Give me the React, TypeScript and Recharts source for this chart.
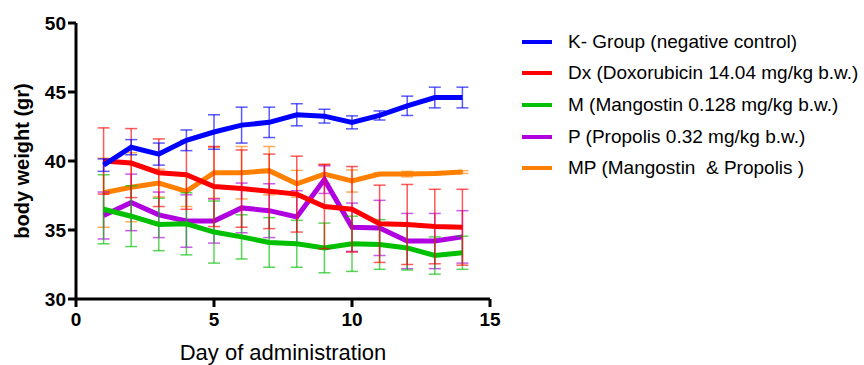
import { LineChart, Line, XAxis, YAxis, ErrorBar, Label } from "recharts";

const days = [1, 2, 3, 4, 5, 6, 7, 8, 9, 10, 11, 12, 13, 14];

const kGroup = [39.7, 41.0, 40.5, 41.5, 42.1, 42.6, 42.8, 43.35, 43.25, 42.8, 43.3, 44.0, 44.6, 44.6];
const kGroupErr = [0.45, 0.55, 0.8, 0.75, 1.25, 1.3, 1.1, 0.8, 0.5, 0.47, 0.33, 0.7, 0.75, 0.75];

const dx = [40.0, 39.85, 39.15, 39.0, 38.15, 38.0, 37.8, 37.6, 36.7, 36.5, 35.45, 35.4, 35.25, 35.2];
const dxErr = [2.4, 2.5, 2.45, 2.5, 2.9, 2.8, 2.7, 2.75, 3.05, 3.1, 2.8, 2.9, 2.7, 2.75];

const mango = [36.5, 36.0, 35.4, 35.45, 34.85, 34.5, 34.1, 34.0, 33.7, 34.0, 33.95, 33.7, 33.15, 33.35];
const mangoErr = [2.5, 2.2, 1.9, 2.25, 2.25, 1.6, 1.8, 1.7, 1.8, 2.0, 1.8, 1.6, 1.35, 1.2];

const propolis = [36.05, 37.0, 36.1, 35.65, 35.65, 36.6, 36.4, 35.95, 38.65, 35.2, 35.15, 34.2, 34.2, 34.5];
const propolisErr = [1.7, 2.05, 1.65, 1.9, 1.6, 1.8, 1.95, 1.9, 1.0, 1.75, 2.0, 2.0, 2.0, 1.9];

const mp = [37.7, 38.1, 38.4, 37.8, 39.15, 39.15, 39.3, 38.35, 39.05, 38.55, 39.05, 39.05, 39.1, 39.2];
const mpErr = [2.5, 2.5, 1.0, 1.1, 1.85, 1.9, 1.75, 0.97, 0.7, 0.8, 0.1, 0.2, 0.1, 0.1];

const xTicks = [0, 5, 10, 15];
const yTicks = [30, 35, 40, 45, 50];

const series = [
  { key: "k", name: "K- Group (negative control)", color: "#0000ff" },
  { key: "dx", name: "Dx (Doxorubicin 14.04 mg/kg b.w.)", color: "#ff0000" },
  { key: "m", name: "M (Mangostin 0.128 mg/kg b.w.)", color: "#00c000" },
  { key: "p", name: "P (Propolis 0.32 mg/kg b.w.)", color: "#b000e0" },
  { key: "mp", name: "MP (Mangostin  & Propolis )", color: "#ff8000" },
];

const data = days.map((d, i) => ({
  day: d,
  k: kGroup[i],
  kErr: kGroupErr[i],
  dx: dx[i],
  dxErr: dxErr[i],
  m: mango[i],
  mErr: mangoErr[i],
  p: propolis[i],
  pErr: propolisErr[i],
  mp: mp[i],
  mpErr: mpErr[i],
}));

const font = "'Liberation Sans', Arial, sans-serif";

// legend drawn beside the chart, like the GraphPad export
function SeriesLegend() {
  return (
    <div style={{ position: "absolute", left: 522, top: 26, fontFamily: font, fontSize: 19, color: "#000" }}>
      {series.map((s) => (
        <div key={s.key} style={{ display: "flex", alignItems: "center", height: 31.6 }}>
          <span style={{ display: "inline-block", width: 30, height: 4, background: s.color, marginRight: 16 }} />
          <span style={{ whiteSpace: "pre" }}>{s.name}</span>
        </div>
      ))}
    </div>
  );
}

// draw order: K- group on top
const drawOrder = ["mp", "p", "m", "dx", "k"];

export default function App() {
  return (
    <div style={{ position: "absolute", left: 0, top: 0, width: 864, height: 365, background: "#fff" }}>
      <LineChart width={864} height={365} data={data} margin={{ top: 23, right: 374, left: 0, bottom: 0 }}>
        <XAxis
          dataKey="day"
          type="number"
          domain={[0, 15]}
          ticks={xTicks}
          height={66}
          stroke="#000"
          strokeWidth={3}
          tickSize={8}
          tickMargin={6}
          tick={{ fill: "#000", fontSize: 19, fontWeight: "bold", fontFamily: font }}
        >
          <Label
            value="Day of administration"
            position="insideBottom"
            offset={5}
            style={{ fill: "#000", fontSize: 22, fontFamily: font }}
          />
        </XAxis>
        <YAxis
          type="number"
          domain={[30, 50]}
          ticks={yTicks}
          width={76}
          stroke="#000"
          strokeWidth={3}
          tickSize={8}
          tick={{ fill: "#000", fontSize: 19, fontWeight: "bold", fontFamily: font }}
        >
          <Label
            value="body weight (gr)"
            angle={-90}
            position="insideLeft"
            offset={22}
            style={{ fill: "#000", fontSize: 20, fontWeight: "bold", fontFamily: font, textAnchor: "middle" }}
          />
        </YAxis>
        {drawOrder.map((key) => {
          const s = series.find((x) => x.key === key)!;
          return (
            <Line
              key={s.key}
              dataKey={s.key}
              name={s.name}
              type="linear"
              stroke={s.color}
              strokeWidth={5}
              dot={false}
              activeDot={false}
              isAnimationActive={false}
            >
              <ErrorBar
                dataKey={s.key + "Err"}
                direction="y"
                width={6}
                stroke={s.color}
                strokeWidth={1.5}
                strokeOpacity={0.65}
              />
            </Line>
          );
        })}
      </LineChart>
      <SeriesLegend />
    </div>
  );
}
